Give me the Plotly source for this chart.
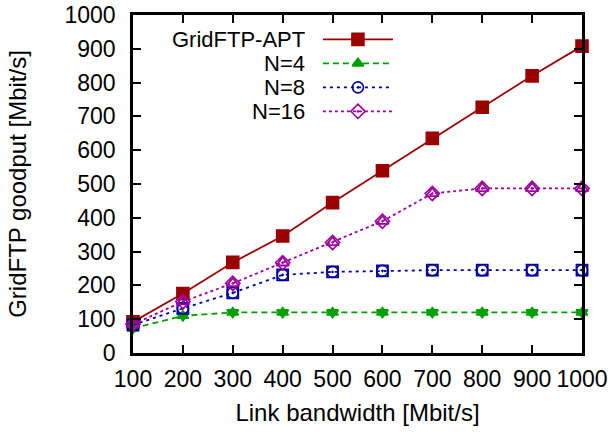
import plotly.graph_objects as go

bandwidth = [100, 200, 300, 400, 500, 600, 700, 800, 900, 1000]
apt = [92, 176, 268, 346, 445, 539, 635, 727, 820, 908]
n4 = [73, 110, 120, 120, 120, 120, 120, 120, 120, 120]
n8 = [83, 132, 178, 231, 240, 243, 245, 245, 245, 245]
n16 = [85, 152, 206, 267, 327, 390, 472, 487, 487, 487]

names = ["GridFTP-APT", "N=4", "N=8", "N=16"]
colors = ["#9a0000", "#00a000", "#0000a0", "#a000a0"]
dashes = ["solid", "6px,4px", "3px,4px", "dot"]
symbols = ["square", "triangle-up", "circle-open-dot", "diamond-open-dot"]
# the data points in the reference look like two overlapping point types
extra_symbols = [None, "triangle-down", "square-open", "triangle-up-open"]
msizes = [12, 10, 11, 11]
series = [apt, n4, n8, n16]

FONT = "Liberation Sans, Arial, sans-serif"
fig = go.Figure()
for name, ys, c, d, s, es, ms in zip(names, series, colors, dashes, symbols, extra_symbols, msizes):
    fig.add_trace(go.Scatter(
        x=bandwidth, y=ys, mode="lines+markers", name=name,
        line=dict(color=c, width=1.8, dash=d),
        marker=dict(symbol=s, size=ms, color=c, line=dict(color=c, width=1.6)),
        showlegend=False, cliponaxis=False))
    if es:
        fig.add_trace(go.Scatter(
            x=bandwidth, y=ys, mode="markers", name=name, hoverinfo="skip",
            marker=dict(symbol=es, size=ms, color=c, line=dict(color=c, width=1.8)),
            showlegend=False, cliponaxis=False))

# manual gnuplot-style key (text left, sample right)
row_y = [0.928, 0.857, 0.786, 0.715]
for name, c, d, s, ms, yy in zip(names, colors, dashes, symbols, msizes, row_y):
    fig.add_annotation(xref="paper", yref="paper", x=0.3875, y=yy, text=name,
                       showarrow=False, xanchor="right", yanchor="middle",
                       height=20, valign="middle",
                       font=dict(family=FONT, size=22, color="black"))
    fig.add_trace(go.Scatter(
        x=[0.423, 0.501, 0.579], y=[yy, yy, yy], xaxis="x2", yaxis="y2",
        mode="lines", showlegend=False, hoverinfo="skip",
        line=dict(color=c, width=1.8, dash=d)))
    fig.add_trace(go.Scatter(
        x=[0.501], y=[yy], xaxis="x2", yaxis="y2", mode="markers",
        showlegend=False, hoverinfo="skip",
        marker=dict(symbol=s, size=ms, color=c, line=dict(color=c, width=1.6))))

axis_common = dict(showgrid=False, zeroline=False, showline=True, linecolor="black",
                   linewidth=2.5, mirror="ticks", ticks="inside", ticklen=8,
                   tickwidth=2, tickcolor="black", automargin=False,
                   tickfont=dict(family=FONT, size=23, color="black"))
fig.update_layout(
    width=614, height=435,
    margin=dict(l=133, r=32, t=15, b=82),
    paper_bgcolor="white", plot_bgcolor="white",
    xaxis=dict(range=[100, 1000], tickmode="array", tickvals=bandwidth,
               ticklabelstandoff=4,
               title=dict(text="Link bandwidth [Mbit/s]", font=dict(family=FONT, size=24, color="black"), standoff=13),
               **axis_common),
    yaxis=dict(range=[0, 1000], tickmode="linear", tick0=0, dtick=100,
               ticklabelstandoff=10,
               title=dict(text="GridFTP goodput [Mbit/s]", font=dict(family=FONT, size=24, color="black"), standoff=32),
               **axis_common),
    xaxis2=dict(range=[0, 1], overlaying="x", visible=False, anchor="y2"),
    yaxis2=dict(range=[0, 1], overlaying="y", visible=False, anchor="x2"),
)
fig.write_html("out.html")
